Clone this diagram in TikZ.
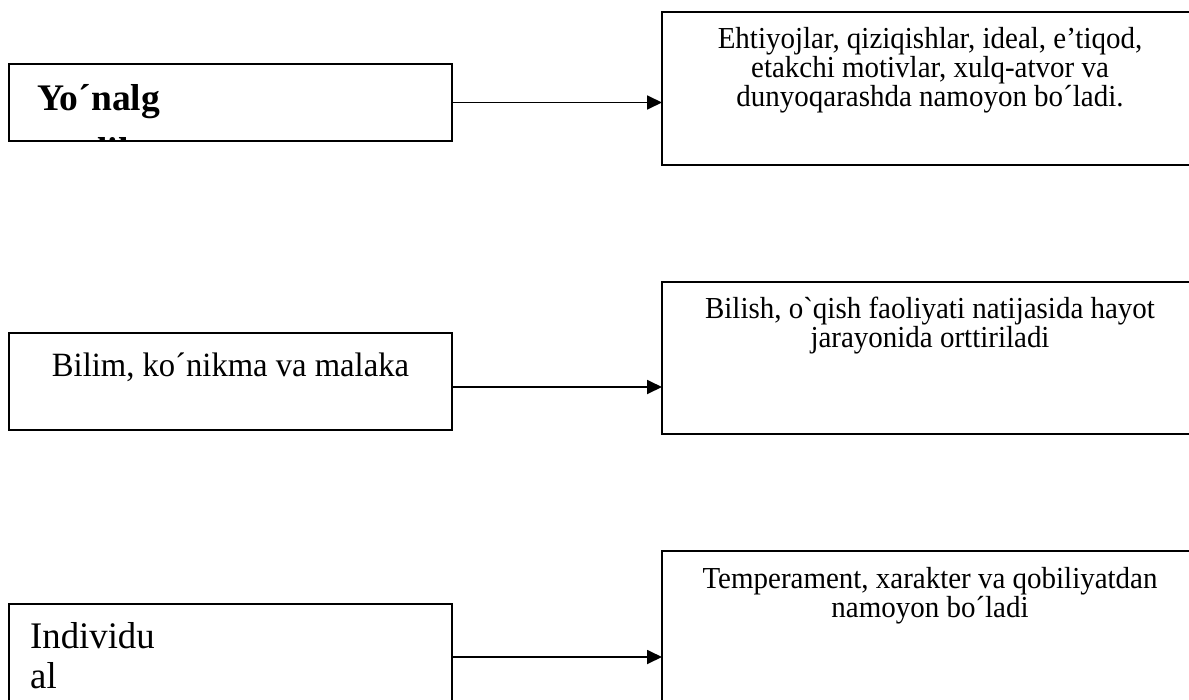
\documentclass[tikz,border=0pt]{standalone}
\usepackage{fontspec}
\setmainfont{Liberation Serif}
\newfontfamily\rtfont[Ligatures=TeXOff,FakeStretch=0.95]{Liberation Serif}
\newfontfamily\lbfont[Ligatures=TeXOff,FakeStretch=0.96]{Liberation Serif}
\newfontfamily\indfont[Ligatures=TeXOff,FakeStretch=0.98]{Liberation Serif}
\newfontfamily\bdfont[Ligatures=TeXOff]{Liberation Serif}
\usetikzlibrary{arrows.meta}
\begin{document}
\begin{tikzpicture}[x=1pt,y=-1pt,
  box/.style={draw, line width=1.8pt, rectangle, inner sep=0pt, outer sep=0pt, anchor=north west},
  txt/.style={inner sep=0pt, anchor=base},
  rtxt/.style={txt, font=\rtfont\fontsize{30.5}{28}\selectfont},
  arr/.style={line width=1.8pt, -{Triangle[length=15pt,width=14pt]}}]
\fill[white] (0,0) rectangle (1189,699);
\useasboundingbox (0,0) rectangle (1189,699);

% left boxes
\node[box, minimum width=443pt, minimum height=77pt] (L1) at (9,64) {};
\node[box, minimum width=443pt, minimum height=97pt] (L2) at (9,333) {};
\node[box, minimum width=443pt, minimum height=106pt] (L3) at (9,604) {};

% right boxes
\node[box, minimum width=540pt, minimum height=153pt] (R1) at (662,12) {};
\node[box, minimum width=540pt, minimum height=152pt] (R2) at (662,282) {};
\node[box, minimum width=540pt, minimum height=170pt] (R3) at (662,551) {};

% left texts
\begin{scope}
\clip (L1.north west) rectangle (L1.south east);
\node[txt, font=\bdfont\bfseries\fontsize{37.5}{45}\selectfont] (t1a) at (98.5,110) {Yo´nalg};
\node[txt, font=\bdfont\bfseries\fontsize{37.5}{45}\selectfont] (t1b) at (98.5,163) {anlik};
\end{scope}
\node[txt, font=\lbfont\fontsize{34}{40}\selectfont] (t2) at (230.5,376) {Bilim, ko´nikma va malaka};
\node[txt, anchor=base west, font=\indfont\fontsize{37.5}{40}\selectfont] (t3a) at (30,648) {Individu};
\node[txt, anchor=base west, font=\indfont\fontsize{37.5}{40}\selectfont] (t3b) at (30,688) {al};

% right texts
\node[rtxt] (r1a) at (930,48) {Ehtiyojlar, qiziqishlar, ideal, e’tiqod,};
\node[rtxt] (r1b) at (930,77) {etakchi motivlar, xulq-atvor va};
\node[rtxt] (r1c) at (930,106) {dunyoqarashda namoyon bo´ladi.};
\node[rtxt] (r2a) at (930,318) {Bilish, o`qish faoliyati natijasida hayot};
\node[rtxt] (r2b) at (930,347) {jarayonida orttiriladi};
\node[rtxt] (r3a) at (930,588) {Temperament, xarakter va qobiliyatdan};
\node[rtxt] (r3b) at (930,617) {namoyon bo´ladi};

% connectors
\coordinate (a1) at (L1.east);
\coordinate (a2) at ([yshift=-5.5pt]L2.east);
\coordinate (a3) at (L3.east);
\draw[arr] (a1) -- (a1 -| R1.west);
\draw[arr] (a2) -- (a2 -| R2.west);
\draw[arr] (a3) -- (a3 -| R3.west);
\end{tikzpicture}
\end{document}
